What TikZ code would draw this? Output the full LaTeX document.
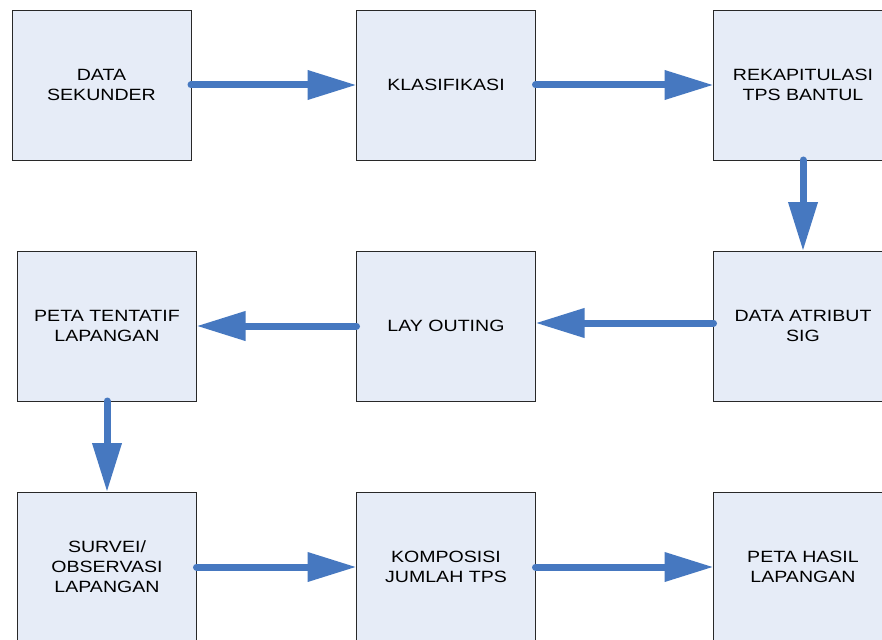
\documentclass[tikz,border=0pt]{standalone}
\usepackage{fontspec}
\setmainfont{Liberation Sans}[FakeStretch=1.2]
\usetikzlibrary{arrows.meta}
\definecolor{boxfill}{RGB}{230,236,247}
\definecolor{arrowblue}{RGB}{70,120,192}
\definecolor{boxline}{RGB}{40,40,40}
\begin{document}
\begin{tikzpicture}[x=1pt,y=-1pt,
  stepbox/.style={draw=boxline,line width=0.8pt,fill=boxfill,rectangle,
    minimum width=179pt,minimum height=150pt,inner sep=0pt,outer sep=0pt,align=center,
    font=\fontsize{16.3}{20}\selectfont},
  flow/.style={draw=arrowblue,line width=7pt,line cap=round,
    -{Triangle[length=49pt,width=28pt]}}]
\useasboundingbox (0,0) rectangle (882,639);
\clip (0,0) rectangle (882,639);
\fill[white] (0,0) rectangle (882,639);
\node[stepbox] (b1) at (101.5,85) {DATA\\SEKUNDER};
\node[stepbox] (b2) at (446,85) {KLASIFIKASI};
\node[stepbox] (b3) at (803,85) {REKAPITULASI\\TPS BANTUL};
\node[stepbox] (b4) at (107,326) {PETA TENTATIF\\LAPANGAN};
\node[stepbox] (b5) at (446,326) {LAY OUTING};
\node[stepbox] (b6) at (803,326) {DATA ATRIBUT\\SIG};
\node[stepbox] (b7) at (107,567) {SURVEI/\\OBSERVASI\\LAPANGAN};
\node[stepbox] (b8) at (446,567) {KOMPOSISI\\JUMLAH TPS};
\node[stepbox] (b9) at (803,567) {PETA HASIL\\LAPANGAN};
\draw[flow] (b1.east) -- (b2.west);
\draw[flow] (b2.east) -- (b3.west);
\draw[flow] (b3.south) -- (b6.north);
\draw[flow] ([yshift=3pt]b6.west) -- ([yshift=3pt]b5.east);
\draw[flow] (b5.west) -- (b4.east);
\draw[flow] (b4.south) -- (b7.north);
\draw[flow] (b7.east) -- (b8.west);
\draw[flow] (b8.east) -- (b9.west);
\end{tikzpicture}
\end{document}
